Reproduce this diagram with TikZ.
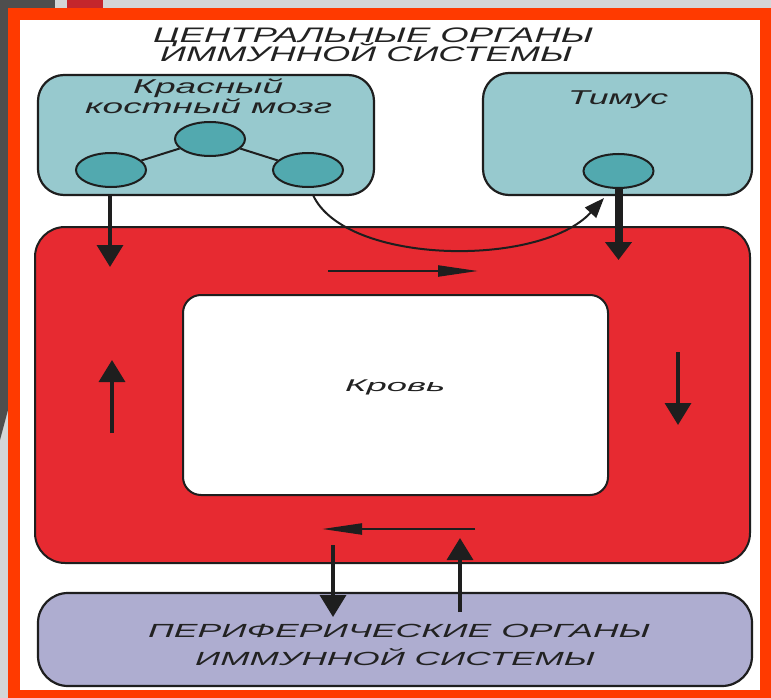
\documentclass[tikz,border=0pt]{standalone}
\usepackage{fontspec}
\setmainfont{Liberation Sans}
\usetikzlibrary{arrows.meta,shapes.geometric}
\definecolor{frameor}{HTML}{FF3A00}
\definecolor{bgl}{HTML}{D4D6D7}
\definecolor{bgd}{HTML}{4E4E4E}
\definecolor{bgr}{HTML}{C4262C}
\definecolor{tealL}{HTML}{97C9CE}
\definecolor{tealD}{HTML}{52A9AF}
\definecolor{bloodr}{HTML}{E72A31}
\definecolor{lav}{HTML}{AEADD0}
\definecolor{linec}{HTML}{1E1E1E}
\definecolor{txt}{HTML}{222222}
\newcommand\strtxt[3]{{\fontsize{#2}{#2}\selectfont\itshape\resizebox{#1}{\height}{#3}}}
\tikzset{
  organ/.style={draw=linec, line width=2.2pt, fill=tealL, rounded corners=26pt, inner sep=0},
  cell/.style={ellipse, draw=linec, line width=2pt, fill=tealD, minimum width=70pt, minimum height=34pt, inner sep=0},
  lbl/.style={inner sep=0, anchor=base west, text=txt},
  varr/.style={draw=linec, line width=3.5pt, -{Triangle[length=22pt,width=26pt]}},
  harr/.style={draw=linec, line width=2.2pt, -{Triangle[length=40pt,width=11pt]}},
}
\begin{document}
\begin{tikzpicture}[x=1pt,y=-1pt]
\useasboundingbox (0,0) rectangle (771,698);
% slide background
\fill[bgl] (0,0) rectangle (771,698);
\fill[bgd] (0,0) rectangle (55,8);
\fill[bgr] (67,0) rectangle (103,8);
\fill[bgd] (0,0) -- (8,0) -- (8,410) -- (0,440) -- cycle;
% frame
\fill[frameor] (8,8) rectangle (771,698);
\fill[white] (20,20) rectangle (760,690);

% title
\node[lbl] (t1) at (153,43) {\strtxt{440pt}{21pt}{ЦЕНТРАЛЬНЫЕ ОРГАНЫ}};
\node[lbl] (t2) at (160,62) {\strtxt{412pt}{21pt}{ИММУННОЙ СИСТЕМЫ}};

% blood
\node[draw=linec, line width=2pt, fill=bloodr, rounded corners=30pt, minimum width=715pt, minimum height=336pt, inner sep=0] (blood) at (392.5,395) {};
\node[draw=linec, line width=2pt, fill=white, rounded corners=18pt, minimum width=425pt, minimum height=200pt, inner sep=0] (inner) at (395.5,395) {};
\node[lbl] (krov) at (345,391) {\strtxt{100pt}{17pt}{Кровь}};

% peripheral
\node[draw=linec, line width=2.2pt, fill=lav, rounded corners=30pt, minimum width=714pt, minimum height=93pt, inner sep=0] (peri) at (395,639.5) {};
\node[lbl] (p1) at (148,637) {\strtxt{502pt}{19pt}{ПЕРИФЕРИЧЕСКИЕ ОРГАНЫ}};
\node[lbl] (p2) at (195,665) {\strtxt{400pt}{19pt}{ИММУННОЙ СИСТЕМЫ}};

% bone marrow
\node[organ, minimum width=336pt, minimum height=120pt] (bm) at (206,135) {};
\node[lbl] (bm1) at (133,94) {\strtxt{150pt}{20pt}{Красный}};
\node[lbl] (bm2) at (85,114) {\strtxt{247pt}{20pt}{костный мозг}};
\node[cell] (c1) at (111,170) {};
\node[cell] (c2) at (210,139) {};
\node[cell] (c3) at (308,170) {};
\draw[linec, line width=2pt] (c1) -- (c2) -- (c3);

% thymus
\node[organ, minimum width=269pt, minimum height=122pt] (thy) at (617.5,134) {};
\node[lbl] (thl) at (568,105) {\strtxt{100pt}{20pt}{Тимус}};
\node[cell] (tc) at (618.5,171) {};

% coordinates of arrow ends
\coordinate (a1) at (110,267);
\coordinate (cs) at (313,195);
\coordinate (ce) at (604,198);
\coordinate (tt) at (618.5,260);
\coordinate (h1s) at (328,271);
\coordinate (h1e) at (478,271);
\coordinate (v2s) at (678,352);
\coordinate (v2e) at (678,425);
\coordinate (h2s) at (475,529);
\coordinate (h2e) at (322,529);
\coordinate (v3s) at (112,433);
\coordinate (v3e) at (112,360);
\coordinate (d1s) at (333,545);
\coordinate (d1e) at (333,617);
\coordinate (u1s) at (460,612);
\coordinate (u1e) at (460,538);

% arrows
\draw[varr] (a1 |- bm.south) -- (a1);
\draw[linec, line width=2pt, -{Triangle[length=20pt,width=15pt]}] (cs) .. controls (345,265) and (540,268) .. (ce);
\draw[draw=linec, line width=8pt, -{Triangle[length=18pt,width=26pt]}] (tc.south) -- (tt);
\draw[harr] (h1s) -- (h1e);
\draw[varr] (v2s) -- (v2e);
\draw[harr] (h2s) -- (h2e);
\draw[varr] (v3s) -- (v3e);
\draw[varr] (d1s) -- (d1e);
\draw[varr] (u1s) -- (u1e);
\end{tikzpicture}
\end{document}
